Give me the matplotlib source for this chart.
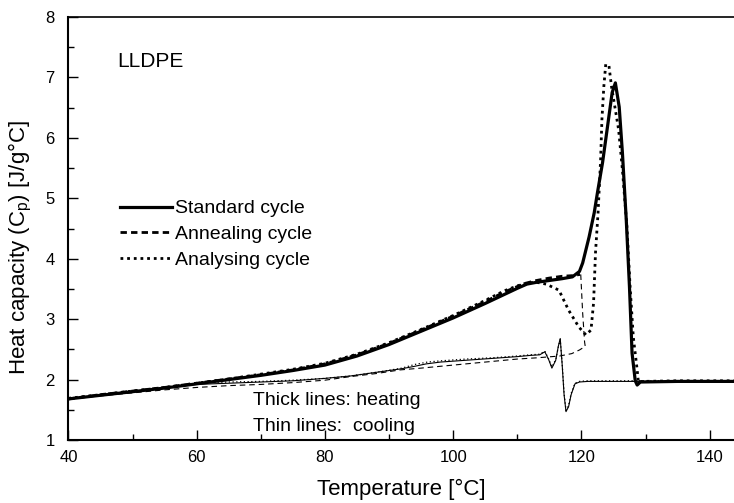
import matplotlib
matplotlib.use("Agg")
import matplotlib.pyplot as plt
from matplotlib.ticker import MultipleLocator

plt.rcParams['font.family'] = ['Liberation Sans', 'DejaVu Sans']

# standard cycle, heating (thick solid)
t_std_heat = [40, 45, 50, 55, 60, 65, 70, 75, 80, 85, 90, 95, 100, 105, 108, 110, 111.5, 113, 115, 117,
              118.6, 119.7, 120.2, 121.2, 122.0, 122.5, 123.3, 124.0, 124.8, 125.3, 125.9, 126.4, 127.0,
              127.5, 127.9, 128.4, 128.7, 129.2, 135, 143.8]
cp_std_heat = [1.68, 1.74, 1.80, 1.86, 1.93, 2.00, 2.07, 2.15, 2.24, 2.39, 2.58, 2.80, 3.02, 3.26, 3.41, 3.51, 3.58, 3.61, 3.64, 3.67,
               3.70, 3.79, 3.93, 4.36, 4.76, 5.09, 5.59, 6.13, 6.75, 6.91, 6.51, 5.75, 4.64,
               3.53, 2.44, 1.98, 1.91, 1.96, 1.97, 1.97]

# standard cycle, cooling (thin solid)
t_std_cool = [143.8, 130, 121, 119.7, 119.0, 118.4, 118.0, 117.6, 117.3, 117.0, 116.7, 116.4, 116.0, 115.4,
              114.9, 114.3, 113.5, 112, 110, 106, 102, 98, 95.8, 94, 92, 88, 84, 80, 75, 70, 65, 60, 55, 50, 45, 40]
cp_std_cool = [1.97, 1.97, 1.97, 1.96, 1.93, 1.75, 1.55, 1.47, 1.75, 2.25, 2.68, 2.55, 2.32, 2.19,
               2.33, 2.46, 2.41, 2.40, 2.38, 2.35, 2.32, 2.29, 2.26, 2.22, 2.18, 2.12, 2.06, 2.02, 1.98, 1.96, 1.94, 1.92, 1.86, 1.80, 1.74, 1.68]

# annealing cycle, heating (thick dashed) and cooling (thin dashed)
t_ann_heat = [40, 45, 50, 55, 60, 65, 70, 75, 80, 85, 90, 95, 100, 105, 108, 110, 111.5, 113, 115, 117, 118.6, 119.8]
cp_ann_heat = [1.68, 1.75, 1.81, 1.87, 1.94, 2.01, 2.08, 2.16, 2.26, 2.41, 2.60, 2.82, 3.05, 3.29, 3.45, 3.54, 3.60, 3.64, 3.68, 3.71, 3.72, 3.74]
t_ann_cool = [119.9, 120.2, 120.5, 120.6, 119.7, 118.5, 116.6, 113, 110, 106, 103, 100, 95, 91.7, 88, 84, 80, 75, 70, 65, 60, 55, 50, 45, 40]
cp_ann_cool = [3.74, 3.10, 2.62, 2.55, 2.49, 2.43, 2.39, 2.36, 2.34, 2.30, 2.27, 2.24, 2.19, 2.16, 2.10, 2.05, 1.99, 1.95, 1.92, 1.90, 1.87, 1.83, 1.78, 1.73, 1.68]

# analysing cycle, heating (thick dotted) and cooling (thin dotted)
t_ana_heat = [40, 45, 50, 55, 60, 65, 70, 75, 80, 85, 90, 95, 100, 105, 108, 110, 111.5, 113, 114.5, 116.5,
              118.0, 119.6, 120.7, 121.5, 121.9, 122.2, 122.6, 123.0, 123.2, 123.5, 123.8, 124.3, 124.7,
              125.8, 126.4, 127.1, 127.6, 128.1, 128.7, 128.9, 129.4, 135, 143.8]
cp_ana_heat = [1.69, 1.75, 1.81, 1.87, 1.94, 2.01, 2.09, 2.17, 2.27, 2.42, 2.61, 2.83, 3.06, 3.31, 3.47, 3.55, 3.60, 3.61, 3.58, 3.48,
               3.15, 2.87, 2.74, 2.82, 3.27, 4.10, 4.76, 5.64, 6.30, 6.85, 7.22, 7.19, 6.85,
               6.14, 5.47, 4.53, 3.53, 2.70, 2.16, 1.95, 1.97, 1.98, 1.98]
t_ana_cool = [143.8, 130, 121, 119.7, 119.0, 118.4, 118.0, 117.6, 117.3, 117.0, 116.7, 116.4, 116.0, 115.4,
              114.9, 114.3, 113.5, 112, 110, 106, 102, 98, 96, 94, 92, 88.6, 84, 80, 75, 70, 65, 62, 58, 55, 50, 45, 40]
cp_ana_cool = [1.98, 1.98, 1.98, 1.97, 1.94, 1.77, 1.57, 1.49, 1.78, 2.27, 2.66, 2.54, 2.33, 2.21,
               2.34, 2.47, 2.42, 2.41, 2.39, 2.36, 2.34, 2.31, 2.29, 2.25, 2.19, 2.13, 2.06, 2.02, 1.99, 1.97, 1.96, 1.95, 1.90, 1.86, 1.80, 1.74, 1.68]

fig = plt.figure(figsize=(7.34, 5.03), dpi=100)
ax = fig.add_axes([0.0932, 0.1252, 0.9068, 0.8410])

ax.plot(t_ann_cool, cp_ann_cool, color='black', lw=0.8, linestyle=(0, (5, 3.5)))
ax.plot(t_ana_cool, cp_ana_cool, color='black', lw=0.9, linestyle=(0, (1, 2)))
ax.plot(t_std_cool, cp_std_cool, color='black', lw=0.8)
ax.plot(t_ann_heat, cp_ann_heat, color='black', lw=2.0, linestyle=(0, (2.3, 1.5)), label='Annealing cycle')
ax.plot(t_ana_heat, cp_ana_heat, color='black', lw=2.0, linestyle=(0, (1, 1.4)), label='Analysing cycle')
ax.plot(t_std_heat, cp_std_heat, color='black', lw=2.3, label='Standard cycle')

handles, labels = ax.get_legend_handles_labels()
order = [2, 0, 1]
ax.legend([handles[i] for i in order], [labels[i] for i in order], loc='upper left',
          bbox_to_anchor=(0.0775, 0.568), frameon=False, fontsize=14, handlelength=2.7,
          handletextpad=0.15, labelspacing=0.42, borderpad=0, borderaxespad=0)

ax.text(47.6, 7.27, 'LLDPE', fontsize=15, va='center', ha='left')
ax.text(68.8, 1.66, 'Thick lines: heating', fontsize=14, va='center', ha='left')
ax.text(68.8, 1.22, 'Thin lines:  cooling', fontsize=14, va='center', ha='left')

ax.set_xlim(40, 143.8)
ax.set_ylim(1, 8)
ax.xaxis.set_major_locator(MultipleLocator(20))
ax.xaxis.set_minor_locator(MultipleLocator(10))
ax.yaxis.set_major_locator(MultipleLocator(1))
ax.yaxis.set_minor_locator(MultipleLocator(0.5))
ax.tick_params(which='major', direction='in', length=7, width=1.0, labelsize=12)
ax.tick_params(which='minor', direction='in', length=4, width=1.0)
ax.tick_params(axis='x', which='major', pad=7)
ax.tick_params(axis='y', which='major', pad=10)

ax.spines['right'].set_visible(False)
ax.spines['left'].set_linewidth(1.5)
ax.spines['bottom'].set_linewidth(1.5)
ax.spines['top'].set_linewidth(1.2)

ax.set_xlabel('Temperature [°C]', fontsize=16)
ax.set_ylabel('Heat capacity (C$_\\mathregular{p}$) [J/g°C]', fontsize=16)
ax.yaxis.set_label_coords(-0.052, 0.455)
ax.xaxis.labelpad = 10

fig.savefig('out.png', dpi=100)
